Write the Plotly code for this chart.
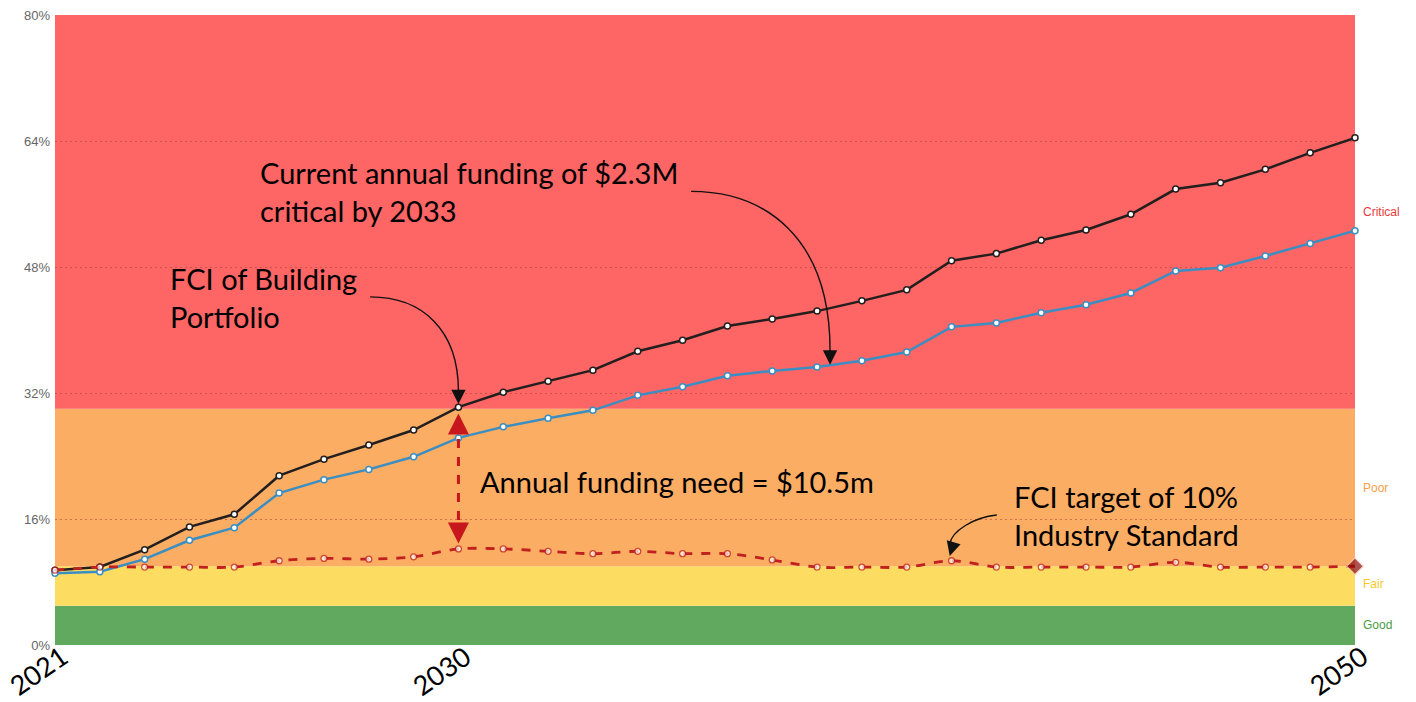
# %%
## imports plotly: go
import plotly.graph_objects as go

# %%
## data (FCI in %, one point per year 2021-2050)
years = list(range(2021, 2051))
fci_portfolio = [9.5, 9.9, 12.1, 15.0, 16.6, 21.5, 23.6, 25.4, 27.3, 30.2,
                 32.1, 33.5, 34.9, 37.3, 38.7, 40.5, 41.4, 42.4, 43.7, 45.1,
                 48.8, 49.7, 51.4, 52.7, 54.7, 57.9, 58.7, 60.4, 62.5, 64.4]
fci_current = [9.1, 9.3, 10.9, 13.3, 14.9, 19.3, 21.0, 22.3, 23.9, 26.3,
               27.7, 28.8, 29.8, 31.7, 32.8, 34.2, 34.8, 35.3, 36.1, 37.2,
               40.4, 40.9, 42.2, 43.2, 44.7, 47.5, 47.9, 49.4, 51.0, 52.6]
fci_target = [9.5, 9.9, 9.9, 9.9, 9.9, 10.7, 11.0, 10.9, 11.2, 12.2,
              12.2, 11.9, 11.6, 11.9, 11.6, 11.6, 10.8, 9.9, 9.9, 9.9,
              10.7, 9.9, 9.9, 9.9, 9.9, 10.5, 9.9, 9.9, 9.9, 10.0]

## condition bands (lower %, upper %)
band_names = ["Good", "Fair", "Poor", "Critical"]
band_low = [0, 5, 10, 30]
band_high = [5, 10, 30, 80]
band_label_y = [2.5, 7.7, 20, 55]
band_fill = ["#62a960", "#fddc62", "#fbad64", "#fe6565"]
band_text = ["#4a9a47", "#f5c92a", "#f7a04a", "#e8393b"]

x_ticks = [2021, 2030, 2050]
y_ticks = [0, 16, 32, 48, 64, 80]

# %%
## traces
fig = go.Figure()
fig.add_trace(go.Scatter(
    x=years, y=fci_portfolio, mode="lines+markers", cliponaxis=False,
    line=dict(color="#231f1f", width=2.5),
    marker=dict(size=6, color="white", line=dict(color="#231f1f", width=1.5)),
))
fig.add_trace(go.Scatter(
    x=years, y=fci_current, mode="lines+markers", cliponaxis=False,
    line=dict(color="#3b8ec2", width=2.5),
    marker=dict(size=6, color="white", line=dict(color="#3b8ec2", width=1.5)),
))
n = len(years)
fig.add_trace(go.Scatter(
    x=years, y=fci_target, mode="lines+markers", cliponaxis=False,
    line=dict(color="#c0201e", width=2.8, dash="dash", shape="spline"),
    marker=dict(size=[6] * (n - 1) + [13],
                symbol=["circle"] * (n - 1) + ["diamond"],
                color=["white"] * (n - 1) + ["#8b0a0a"],
                line=dict(color=["#c0201e"] * (n - 1) + ["#f3d0c0"], width=1.3)),
))

# %%
## background bands + right hand labels
for name, lo, hi, ly, fill, tc in zip(band_names, band_low, band_high, band_label_y,
                                      band_fill, band_text):
    fig.add_shape(type="rect", xref="paper", yref="y", x0=0, x1=1, y0=lo, y1=hi,
                  fillcolor=fill, line_width=0, layer="below")
    fig.add_annotation(xref="paper", yref="y", x=1.005, y=ly, text=name,
                       showarrow=False, xanchor="left",
                       font=dict(family="Liberation Sans, Arial", size=12, color=tc))

# %%
## text callouts
callout_font = dict(family="Lato, Calibri, sans-serif", size=29, color="black")
fig.add_annotation(x=2025.53, y=57.6, text="Current annual funding of $2.3M<br>critical by 2033",
                   showarrow=False, xanchor="left", align="left", font=callout_font)
fig.add_annotation(x=2023.52, y=44.1, text="FCI of Building<br>Portfolio",
                   showarrow=False, xanchor="left", align="left", font=callout_font)
fig.add_annotation(x=2030.44, y=20.7, text="Annual funding need = $10.5m",
                   showarrow=False, xanchor="left", align="left", font=callout_font)
fig.add_annotation(x=2042.35, y=16.5, text="FCI target of 10%<br>Industry Standard",
                   showarrow=False, xanchor="left", align="left", font=callout_font)

## curved arrows (path + head)
curves = [
    "M 2028.03 44.2 C 2029.2 44.2 2030 40.0 2030 32.2",
    "M 2035.19 57.6 C 2036.8 57.6 2038.3 52.0 2038.29 37.2",
    "M 2042.01 16.5 C 2041.5 16.2 2041.0 14.5 2040.96 12.8",
]
for p in curves:
    fig.add_shape(type="path", path=p, xref="x", yref="y",
                  line=dict(color="#111111", width=1.4))
heads = [(2030, 30.6, 0, -16), (2038.29, 35.6, 0, -16), (2040.96, 11.3, 4, -14)]
for hx, hy, hax, hay in heads:
    fig.add_annotation(x=hx, y=hy, ax=hax, ay=hay, text="", showarrow=True,
                       arrowhead=2, arrowsize=2.2, arrowwidth=1.3, arrowcolor="#111")

## red dashed double arrow (funding gap)
fig.add_shape(type="line", xref="x", yref="y", x0=2030, x1=2030, y0=13.6, y1=28.6,
              line=dict(color="#c8161d", width=3, dash="dash"))
fig.add_annotation(x=2030, y=29.4, ax=0, ay=12, text="", showarrow=True,
                   arrowhead=2, arrowsize=1.4, arrowwidth=3, arrowcolor="#c8161d")
fig.add_annotation(x=2030, y=12.9, ax=0, ay=-12, text="", showarrow=True,
                   arrowhead=2, arrowsize=1.4, arrowwidth=3, arrowcolor="#c8161d")

## rotated year labels under the axis
for yr in x_ticks:
    fig.add_annotation(x=yr, xref="x", y=0, yref="paper", text=str(yr),
                       showarrow=False, textangle=-35, xanchor="center", yanchor="top",
                       xshift=-17, yshift=9,
                       font=dict(family="Lato, Calibri, sans-serif", size=27, color="black"))

# %%
## layout
fig.update_layout(
    width=1416, height=702,
    margin=dict(l=55, r=61, t=15, b=57),
    plot_bgcolor="white", paper_bgcolor="white",
    showlegend=False,
)
fig.update_xaxes(range=[2021, 2050], tickvals=x_ticks, showticklabels=False,
                 showgrid=False, zeroline=False, automargin=False)
fig.update_yaxes(range=[0, 80], tickvals=y_ticks, ticktext=[f"{t}%" for t in y_ticks],
                 automargin=False, showgrid=True, gridcolor="rgba(175,70,55,0.6)",
                 griddash="2px,3px", zeroline=False, ticks="", ticklabelstandoff=4,
                 tickfont=dict(family="Liberation Sans, Arial", size=13, color="#666666"))

# %%
## write html (drop the default page margin so the figure sits at 0,0)
fig.write_html("out.html", config={"displayModeBar": False},
               post_script="document.body.style.margin='0';")
